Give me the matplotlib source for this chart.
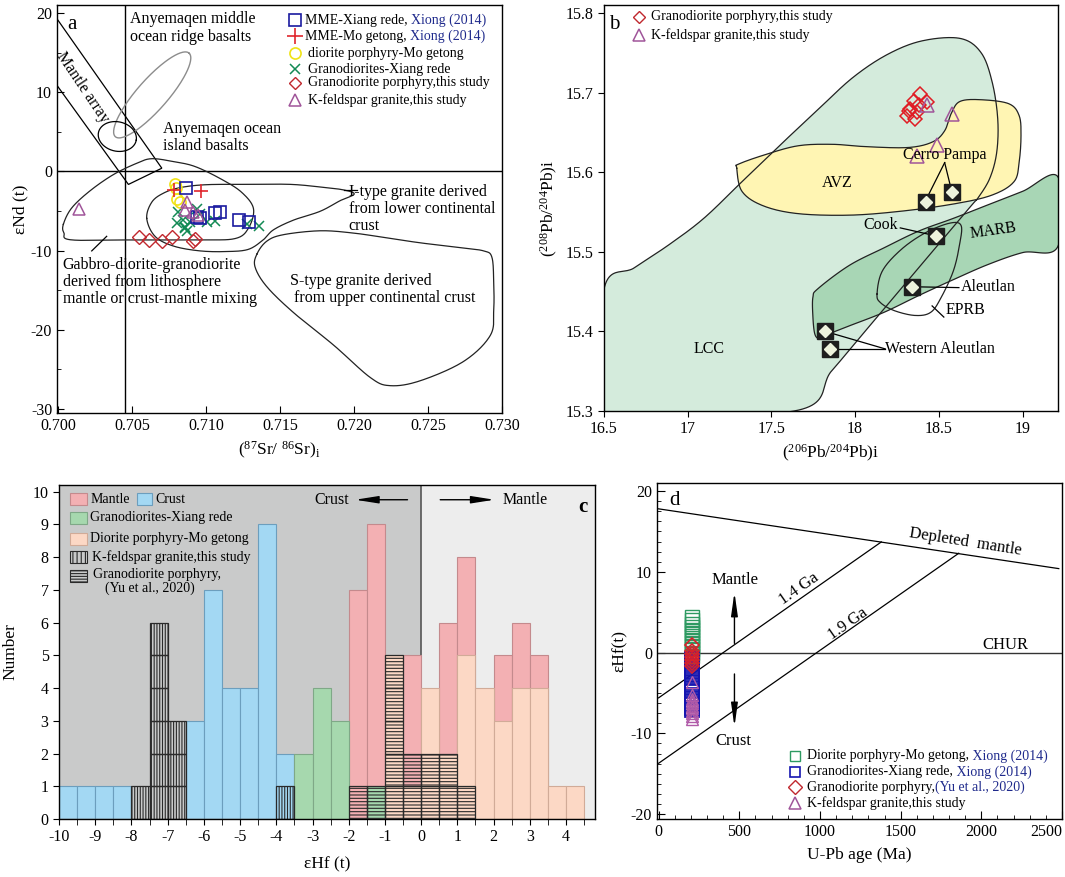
import numpy as np
import matplotlib
matplotlib.use('Agg')
import matplotlib.pyplot as plt
from matplotlib.patches import Rectangle, Polygon
from matplotlib.ticker import MultipleLocator, AutoMinorLocator

plt.rcParams['font.family'] = ['Liberation Serif', 'DejaVu Serif']
plt.rcParams['mathtext.fontset'] = 'custom'
plt.rcParams['mathtext.rm'] = 'Liberation Serif'
plt.rcParams['mathtext.it'] = 'Liberation Serif:italic'
plt.rcParams['hatch.linewidth'] = 0.8
plt.rcParams['axes.linewidth'] = 1.0
plt.rcParams['axes.unicode_minus'] = False

# ---------------- panel a : Sr-Nd ----------------
a_xiang_sr = [0.70863, 0.70935, 0.70958, 0.71060, 0.71093, 0.71218, 0.71290]
a_xiang_nd = [-2.05, -5.74, -5.86, -5.20, -5.12, -6.19, -6.35]
a_mo_sr = [0.70782, 0.70965]
a_mo_nd = [-2.34, -2.46]
a_dior_sr = [0.70789, 0.70795, 0.70805, 0.70823]
a_dior_nd = [-1.64, -2.05, -3.48, -3.81]
a_gran_sr = [0.70811, 0.70935, 0.70800, 0.70845, 0.70856, 0.70868, 0.70890,
             0.71003, 0.71060, 0.71274, 0.71353, 0.70856, 0.70958]
a_gran_nd = [-5.12, -4.71, -6.56, -6.15, -7.17, -7.58, -6.35,
             -6.35, -6.27, -6.68, -6.84, -6.97, -5.33]
a_gdp_sr = [0.70547, 0.70615, 0.70699, 0.70766, 0.70908, 0.70924]
a_gdp_nd = [-8.32, -8.61, -8.81, -8.32, -8.73, -8.48]
a_kfs_sr = [0.70139, 0.70868, 0.70856, 0.70913, 0.70947]
a_kfs_nd = [-4.71, -3.89, -4.92, -5.12, -5.53]

# reference fields (Sr, Nd)
mantle_array_sr = [0.69992, 0.70699, 0.70473, 0.69992]
mantle_array_nd = [19.2, 0.4, -1.65, 10.8]
morb_ellipse = dict(x=0.70634, y=9.65, a=0.726, b=0.2, ang=46.3)
oib_ellipse = dict(x=0.70398, y=4.4, a=0.26, b=0.186, ang=-10)
gabbro_sr = [0.70033, 0.70089, 0.70213, 0.70371, 0.70529, 0.70631, 0.70778, 0.70924,
             0.71105, 0.71240, 0.71319, 0.71285, 0.71195, 0.70958, 0.70507, 0.70089, 0.70037]
gabbro_nd = [-6.68, -4.63, -2.46, -0.41, 1.02, 1.60, 1.23, 0.61,
             -1.02, -2.66, -4.71, -7.17, -8.48, -8.65, -8.65, -8.65, -7.79]
itype_sr = [0.70597, 0.70631, 0.70710, 0.70823, 0.71003, 0.71296, 0.71567, 0.71770, 0.71928,
            0.72000, 0.71906, 0.71770, 0.71590, 0.71454, 0.71387, 0.71285, 0.71139, 0.70958,
            0.70778, 0.70653]
itype_nd = [-5.94, -3.89, -2.75, -2.05, -1.68, -1.64, -1.64, -1.97, -2.34,
            -2.87, -3.69, -5.04, -6.15, -7.38, -8.61, -9.84, -10.12, -10.04,
            -9.43, -8.20]
stype_sr = [0.71342, 0.71409, 0.71522, 0.71770, 0.71996, 0.72222, 0.72447, 0.72718, 0.72876,
            0.72932, 0.72944, 0.72944, 0.72921, 0.72741, 0.72447, 0.72244, 0.72109, 0.71861,
            0.71590, 0.71409, 0.71330]
stype_nd = [-10.45, -8.81, -7.99, -7.50, -7.79, -8.40, -9.02, -9.63, -10.04,
            -10.86, -14.14, -17.42, -20.70, -23.98, -26.43, -27.05, -26.02, -21.93,
            -17.83, -14.55, -12.09]

# ---------------- panel b : Pb-Pb ----------------
b_gdp_206 = [18.39, 18.35, 18.43, 18.32, 18.37, 18.33, 18.31, 18.38, 18.36]
b_gdp_207 = [15.698, 15.690, 15.688, 15.677, 15.675, 15.679, 15.671, 15.684, 15.667]
b_kfs_206 = [18.43, 18.58, 18.49, 18.37]
b_kfs_207 = [15.684, 15.673, 15.634, 15.620]
ref_pt_206 = [18.421, 18.577, 18.483, 18.338, 17.821, 17.848]
ref_pt_207 = [15.563, 15.575, 15.520, 15.456, 15.400, 15.378]

lcc_x = [16.5, 16.682, 16.889, 17.096, 17.324, 17.572, 17.780, 17.987, 18.194, 18.401, 18.628,
         18.753, 18.819, 18.852, 18.846, 18.804, 18.732, 18.690, 18.380, 18.111, 17.862,
         17.635, 16.5]
lcc_y = [15.453, 15.480, 15.509, 15.542, 15.588, 15.638, 15.679, 15.719, 15.748, 15.765, 15.768,
         15.750, 15.713, 15.667, 15.625, 15.592, 15.567, 15.557, 15.480, 15.413, 15.351,
         15.300, 15.300]
marb_x = [17.780, 17.966, 18.173, 18.380, 18.587, 18.794, 19.001, 19.212, 19.212, 19.001,
          18.794, 18.587, 18.380, 18.173, 17.966, 17.821, 17.784, 17.759, 17.748, 17.748]
marb_y = [15.454, 15.483, 15.505, 15.526, 15.542, 15.559, 15.576, 15.594, 15.507, 15.499,
          15.484, 15.465, 15.445, 15.424, 15.407, 15.395, 15.391, 15.397, 15.418, 15.443]
avz_x = [17.293, 17.324, 17.448, 17.655, 17.966, 18.276, 18.587, 18.815, 18.949, 18.980, 18.991,
         18.980, 18.918, 18.753, 18.628, 18.577, 18.535, 18.463, 18.318, 18.069, 17.862,
         17.655, 17.448, 17.303]
avz_y = [15.605, 15.576, 15.558, 15.548, 15.546, 15.551, 15.560, 15.571, 15.588, 15.613, 15.646,
         15.671, 15.686, 15.691, 15.689, 15.675, 15.652, 15.638, 15.631, 15.632, 15.635,
         15.633, 15.621, 15.610]
eprb_x = [18.131, 18.163, 18.276, 18.421, 18.566, 18.633, 18.624, 18.587, 18.515, 18.452,
          18.359, 18.235, 18.152]
eprb_y = [15.447, 15.476, 15.503, 15.524, 15.536, 15.533, 15.509, 15.476, 15.443, 15.424,
          15.420, 15.426, 15.436]

# ---------------- panel c : eHf histogram ----------------
hf_bin_left = np.arange(-10, 4.5, 0.5)
crust_n = [1, 1, 1, 1, 0, 0, 0, 3, 7, 4, 4, 9, 2, 0, 0, 0, 0, 0, 0, 0, 0, 0, 0, 0, 0, 0, 0, 0, 0]
mantle_n = [0, 0, 0, 0, 0, 0, 0, 0, 0, 0, 0, 0, 0, 0, 0, 0, 7, 9, 0, 5, 0, 6, 8, 0, 5, 6, 5, 0, 0]
green_n = [0, 0, 0, 0, 0, 0, 0, 0, 0, 0, 0, 0, 0, 2, 4, 3, 0, 1, 0, 0, 0, 0, 0, 0, 0, 0, 0, 0, 0]
peach_n = [0, 0, 0, 0, 0, 0, 0, 0, 0, 0, 0, 0, 0, 0, 0, 0, 0, 0, 5, 1, 4, 2, 5, 4, 3, 4, 4, 1, 1]
kfs_n = [0, 0, 0, 0, 1, 6, 3, 0, 0, 0, 0, 0, 1, 0, 0, 0, 0, 0, 0, 0, 0, 0, 0, 0, 0, 0, 0, 0, 0]
yu_n = [0, 0, 0, 0, 0, 0, 0, 0, 0, 0, 0, 0, 0, 0, 0, 0, 1, 1, 5, 2, 2, 2, 1, 0, 0, 0, 0, 0, 0]

# ---------------- panel d : eHf vs age ----------------
d_green_age = [205, 205, 205, 205, 205, 205, 205, 205, 205, 205, 205, 205, 205]
d_green_hf = [4.4, 4.0, 3.6, 3.2, 2.8, 2.4, 2.0, 1.6, 1.2, 0.8, 0.4, 0.0, -0.4]
d_blue_age = [205, 205, 205, 205, 205, 205, 205, 205, 205, 205, 205, 205, 205, 205, 205, 205, 205]
d_blue_hf = [-0.8, -1.2, -1.6, -2.0, -2.4, -2.8, -3.2, -3.6, -4.0, -4.4, -4.8, -5.2,
             -5.6, -6.0, -6.4, -6.8, -7.1]
d_red_age = [205, 205, 205, 205, 205, 205, 205]
d_red_hf = [1.0, 0.2, -0.2, -0.6, -0.9, -1.3, -1.7]
d_kfs_age = [210, 210, 210, 210, 210, 210, 210, 210, 210, 210, 210]
d_kfs_hf = [-3.7, -5.3, -5.7, -6.0, -6.3, -6.6, -6.9, -7.2, -7.5, -7.9, -8.2]
dm_age = [0, 2480]
dm_hf = [17.8, 10.4]
ga14_age = [0, 1380]
ga14_hf = [-5.6, 13.7]
ga19_age = [0, 1860]
ga19_hf = [-13.7, 12.3]


def smooth(xs, ys, lims, closed=True, n=24):
    x0, x1, y0, y1 = lims
    pts = np.column_stack([(np.asarray(xs) - x0) / (x1 - x0), (np.asarray(ys) - y0) / (y1 - y0)])
    if closed:
        P = np.vstack([pts[-1], pts, pts[0], pts[1]])
    else:
        P = np.vstack([pts[0], pts, pts[-1]])
    out = []
    t = np.linspace(0, 1, n, endpoint=False)[:, None]
    for i in range(1, len(P) - 2):
        p0, p1, p2, p3 = P[i - 1], P[i], P[i + 1], P[i + 2]
        out.append(0.5 * (2 * p1 + (-p0 + p2) * t + (2 * p0 - 5 * p1 + 4 * p2 - p3) * t ** 2
                          + (-p0 + 3 * p1 - 3 * p2 + p3) * t ** 3))
    out.append(P[-2][None])
    c = np.vstack(out)
    return c[:, 0] * (x1 - x0) + x0, c[:, 1] * (y1 - y0) + y0


def ellipse(e, ux, uy):
    t = np.linspace(0, 2 * np.pi, 200)
    th = np.radians(e['ang'])
    u = e['a'] * np.cos(t) * np.cos(th) - e['b'] * np.sin(t) * np.sin(th)
    v = e['a'] * np.cos(t) * np.sin(th) + e['b'] * np.sin(t) * np.cos(th)
    return e['x'] + u * ux, e['y'] + v * uy


W, H = 1065, 877
fig = plt.figure(figsize=(W / 100, H / 100), dpi=100)


def box(l, r, t, b):
    return [l / W, 1 - b / H, (r - l) / W, (b - t) / H]


tick_fs = 11.5
lab_fs = 12.5

# ======== a ========
ax = fig.add_axes(box(57, 502, 5, 413))
alim = (0.6999, 0.7300, -30.5, 21.0)
ax.set_xlim(alim[0], alim[1])
ax.set_ylim(alim[2], alim[3])
ax.axhline(0, color='k', lw=1.0)
ax.axvline(0.70453, color='k', lw=1.0)
ax.add_patch(Polygon(np.column_stack([mantle_array_sr, mantle_array_nd]), closed=True,
                     fill=False, ec='k', lw=0.9))
ex, ey = ellipse(morb_ellipse, 0.005, 10)
ax.plot(ex, ey, color='#8c8c8c', lw=1.0)
ex, ey = ellipse(oib_ellipse, 0.005, 10)
ax.plot(ex, ey, color='k', lw=0.9)
for xs, ys in [(gabbro_sr, gabbro_nd), (itype_sr, itype_nd), (stype_sr, stype_nd)]:
    sx, sy = smooth(xs, ys, alim)
    ax.plot(sx, sy, color='#222222', lw=0.9)
ax.plot([0.70225, 0.70326], [-10.04, -8.2], color='k', lw=0.9)
ax.plot([0.71930, 0.72020], [-2.4, -2.4], color='k', lw=0.9)

ax.plot(a_gran_sr, a_gran_nd, 'x', color='#138a55', ms=7, mew=1.1, ls='none')
ax.plot(a_dior_sr, a_dior_nd, 'o', mfc='none', mec='#f0e316', ms=8, mew=1.2, ls='none')
ax.plot(a_xiang_sr, a_xiang_nd, 's', mfc='none', mec='#1a1aa0', ms=8, mew=1.2, ls='none')
ax.plot(a_mo_sr, a_mo_nd, '+', color='#e0262d', ms=10, mew=1.2, ls='none')
ax.plot(a_gdp_sr, a_gdp_nd, 'D', mfc='none', mec='#c0282e', ms=7.5, mew=1.0, ls='none')
ax.plot(a_kfs_sr, a_kfs_nd, '^', mfc='none', mec='#a0559a', ms=9, mew=1.1, ls='none')

tfs = 11.5
ax.text(0.70484, 20.2, 'Anyemaqen middle\nocean ridge basalts', fontsize=tfs, va='top', linespacing=1.1)
ax.text(0.7071, 6.4, 'Anyemaqen ocean\nisland basalts', fontsize=tfs, va='top', linespacing=1.1)
ax.text(0.71962, -1.6, 'I-type granite derived\nfrom lower continental\ncrust', fontsize=tfs,
        va='top', linespacing=1.1)
ax.text(0.70028, -10.8, 'Gabbro-diorite-granodiorite\nderived from lithosphere\nmantle or crust-mantle mixing',
        fontsize=tfs, va='top', linespacing=1.1)
ax.text(0.71567, -12.8, 'S-type granite derived\n from upper continental crust', fontsize=tfs,
        va='top', linespacing=1.1)
ax.text(0.7016, 10.6, 'Mantle array', fontsize=tfs, rotation=-56, ha='center', va='center')
ax.text(0.022, 0.975, 'a', transform=ax.transAxes, fontsize=15, va='top')

leg_rows = [0.963, 0.924, 0.882, 0.843, 0.809, 0.767]
leg_styles = [dict(marker='s', mfc='none', mec='#1a1aa0', ms=9, mew=1.2),
              dict(marker='+', color='#e0262d', ms=11, mew=1.2),
              dict(marker='o', mfc='none', mec='#f0e316', ms=8, mew=1.2),
              dict(marker='x', color='#138a55', ms=7, mew=1.1),
              dict(marker='D', mfc='none', mec='#c0282e', ms=6.5, mew=1.0),
              dict(marker='^', mfc='none', mec='#a0559a', ms=9, mew=1.1)]
leg_labels = ['MME-Xiang rede, ', 'MME-Mo getong, ', 'diorite porphyry-Mo getong',
              'Granodiorites-Xiang rede', 'Granodiorite porphyry,this study',
              'K-feldspar granite,this study']
for i, (yy, st, lb) in enumerate(zip(leg_rows, leg_styles, leg_labels)):
    ax.plot([0.535], [yy], transform=ax.transAxes, ls='none', clip_on=False, **st)
    t = ax.text(0.557 if i < 2 else 0.565, yy, lb, transform=ax.transAxes, fontsize=10, va='center')
    if i < 2:
        ax.annotate('Xiong (2014)', xy=(1, 0.5), xycoords=t, va='center', fontsize=10,
                    color='#1f2a8c')

ax.set_xticks([0.700, 0.705, 0.710, 0.715, 0.720, 0.725, 0.730])
ax.set_xticklabels(['0.700', '0.705', '0.710', '0.715', '0.720', '0.725', '0.730'])
ax.set_yticks([-30, -20, -10, 0, 10, 20])
ax.yaxis.set_minor_locator(MultipleLocator(5))
ax.tick_params(direction='in', labelsize=tick_fs, length=5)
ax.tick_params(which='minor', direction='in', length=3)
ax.set_xlabel(r'($^{87}$Sr/ $^{86}$Sr)$_{\rm i}$', fontsize=lab_fs, labelpad=4)
ax.set_ylabel('εNd (t)', fontsize=lab_fs, labelpad=2)

# ======== b ========
bx = fig.add_axes(box(604, 1058, 5, 411))
blim = (16.5, 19.212, 15.3, 15.81)
bx.set_xlim(blim[0], blim[1])
bx.set_ylim(blim[2], blim[3])
sx, sy = smooth(lcc_x, lcc_y, blim)
bx.fill(sx, sy, color='#d4ebdc', lw=0)
sx2, sy2 = smooth(avz_x, avz_y, blim)
bx.fill(sx2, sy2, color='#fff5b3', lw=0)
bx.plot(sx, sy, color='#222222', lw=0.9)
bx.plot(sx2, sy2, color='#222222', lw=0.9)
sx3, sy3 = smooth(marb_x, marb_y, blim)
bx.fill(sx3, sy3, facecolor='#a8d6b5', edgecolor='#222222', lw=0.9)
sx4, sy4 = smooth(eprb_x, eprb_y, blim)
bx.plot(sx4, sy4, color='#222222', lw=0.9)

bx.plot([18.535, 18.43], [15.612, 15.568], color='k', lw=0.9)
bx.plot([18.535, 18.57], [15.612, 15.582], color='k', lw=0.9)
bx.plot([18.27, 18.44], [15.53, 15.522], color='k', lw=0.9)
bx.plot([18.36, 18.62], [15.456, 15.455], color='k', lw=0.9)
bx.plot([18.46, 18.53], [15.432, 15.418], color='k', lw=0.9)
bx.plot([18.18, 17.87], [15.378, 15.397], color='k', lw=0.9)
bx.plot([18.18, 17.89], [15.378, 15.378], color='k', lw=0.9)

bx.plot(ref_pt_206, ref_pt_207, 's', color='#1e1e1e', ms=11, ls='none')
bx.plot(ref_pt_206, ref_pt_207, 'D', color='#eef3dd', ms=6, ls='none')
bx.plot(b_gdp_206, b_gdp_207, 'D', mfc='none', mec='#e01c24', ms=7, mew=1.1, ls='none')
bx.plot(b_kfs_206, b_kfs_207, '^', mfc='none', mec='#a0559a', ms=10, mew=1.1, ls='none')

bfs = 11.5
bx.text(18.535, 15.621, 'Cerro Pampa', fontsize=bfs, ha='center', va='center')
bx.text(17.893, 15.586, 'AVZ', fontsize=bfs, ha='center', va='center')
bx.text(17.127, 15.378, 'LCC', fontsize=bfs, ha='center', va='center')
bx.text(18.152, 15.534, 'Cook', fontsize=bfs, ha='center', va='center')
bx.text(18.825, 15.527, 'MARB', fontsize=bfs, ha='center', va='center', rotation=8)
bx.text(18.63, 15.456, 'Aleutlan', fontsize=bfs, ha='left', va='center')
bx.text(18.54, 15.427, 'EPRB', fontsize=bfs, ha='left', va='center')
bx.text(18.18, 15.378, 'Western Aleutlan', fontsize=bfs, ha='left', va='center')
bx.text(0.012, 0.975, 'b', transform=bx.transAxes, fontsize=15, va='top')
bx.plot([0.077], [0.971], 'D', mfc='none', mec='#c0282e', ms=6.5, mew=1.0,
        transform=bx.transAxes, clip_on=False)
bx.text(0.103, 0.971, 'Granodiorite porphyry,this study', transform=bx.transAxes, fontsize=10,
        va='center')
bx.plot([0.077], [0.926], '^', mfc='none', mec='#a0559a', ms=9, mew=1.1,
        transform=bx.transAxes, clip_on=False)
bx.text(0.103, 0.926, 'K-feldspar granite,this study', transform=bx.transAxes, fontsize=10,
        va='center')
bx.set_xticks([16.5, 17, 17.5, 18, 18.5, 19])
bx.set_xticklabels(['16.5', '17', '17.5', '18', '18.5', '19'])
bx.set_yticks([15.3, 15.4, 15.5, 15.6, 15.7, 15.8])
bx.tick_params(labelsize=tick_fs, length=4)
bx.set_xlabel(r'($^{206}$Pb/$^{204}$Pb)i', fontsize=lab_fs, labelpad=4)
bx.set_ylabel(r'($^{208}$Pb/$^{204}$Pb)i', fontsize=lab_fs, labelpad=4)

# ======== c ========
cx = fig.add_axes(box(59, 595, 485, 819))
cx.set_xlim(-10, 4.8)
cx.set_ylim(0, 10.2)
cx.axvspan(-10, 0, color='#c9caca', zorder=0)
cx.axvspan(0, 4.8, color='#ededed', zorder=0)
cx.plot([0, 0], [5, 10.2], color='#555555', lw=1.2, zorder=1)
w = 0.5
cx.bar(hf_bin_left, crust_n, width=w, align='edge', color='#a3d8f3', ec='#6c9ebd', lw=0.8, zorder=2)
cx.bar(hf_bin_left, mantle_n, width=w, align='edge', color='#f3b0b3', ec='#c48a8d', lw=0.8, zorder=2)
cx.bar(hf_bin_left, peach_n, width=w, align='edge', color='#fcd8c5', ec='#d1ab98', lw=0.8, zorder=3)
cx.bar(hf_bin_left, green_n, width=w, align='edge', color='#a6d8ae', ec='#7fa887', lw=0.8, zorder=3)
for xl, n in zip(hf_bin_left, kfs_n):
    for k in range(n):
        cx.bar(xl, 1, bottom=k, width=w, align='edge', fill=False, hatch='||||||', ec='#2a2a2a',
               lw=0.9, zorder=4)
for xl, n in zip(hf_bin_left, yu_n):
    for k in range(n):
        cx.bar(xl, 1, bottom=k, width=w, align='edge', fill=False, hatch='-----', ec='#2a2a2a',
               lw=0.9, zorder=4)

cx.annotate('', xy=(-1.9, 9.75), xytext=(-0.3, 9.75),
            arrowprops=dict(arrowstyle='-|>,head_length=1.4,head_width=0.22', color='k', lw=1.0),
            zorder=5)
cx.text(-2.0, 9.75, 'Crust', fontsize=11.5, ha='right', va='center', zorder=5)
cx.annotate('', xy=(2.1, 9.75), xytext=(0.45, 9.75),
            arrowprops=dict(arrowstyle='-|>,head_length=1.4,head_width=0.22', color='k', lw=1.0),
            zorder=5)
cx.text(2.25, 9.75, 'Mantle', fontsize=11.5, ha='left', va='center', zorder=5)
cx.text(0.977, 0.965, 'c', transform=cx.transAxes, fontsize=15, ha='center', va='top',
        fontweight='bold', zorder=5)

pw, ph = 0.032, 0.036
lfs = 10
cx.add_patch(Rectangle((0.021, 0.958 - ph / 2), pw, ph, transform=cx.transAxes, fc='#f3b0b3',
                       ec='#c48a8d', lw=0.8, zorder=5))
cx.text(0.058, 0.958, 'Mantle', transform=cx.transAxes, fontsize=lfs, va='center', zorder=5)
cx.add_patch(Rectangle((0.146, 0.958 - ph / 2), 0.028, ph, transform=cx.transAxes, fc='#a3d8f3',
                       ec='#6c9ebd', lw=0.8, zorder=5))
cx.text(0.180, 0.958, 'Crust', transform=cx.transAxes, fontsize=lfs, va='center', zorder=5)
cx.add_patch(Rectangle((0.021, 0.902 - ph / 2), pw, ph, transform=cx.transAxes, fc='#a6d8ae',
                       ec='#7fa887', lw=0.8, zorder=5))
cx.text(0.058, 0.904, 'Granodiorites-Xiang rede', transform=cx.transAxes, fontsize=lfs,
        va='center', zorder=5)
cx.add_patch(Rectangle((0.021, 0.839 - ph / 2), pw, ph, transform=cx.transAxes, fc='#fcd8c5',
                       ec='#d1ab98', lw=0.8, zorder=5))
cx.text(0.058, 0.841, 'Diorite porphyry-Mo getong', transform=cx.transAxes, fontsize=lfs,
        va='center', zorder=5)
cx.add_patch(Rectangle((0.021, 0.784 - ph / 2), pw, ph, transform=cx.transAxes, fill=False,
                       hatch='||||', ec='#2a2a2a', lw=0.8, zorder=5))
cx.text(0.062, 0.784, 'K-feldspar granite,this study', transform=cx.transAxes, fontsize=lfs,
        va='center', zorder=5)
cx.add_patch(Rectangle((0.021, 0.728 - ph / 2), pw, ph, transform=cx.transAxes, fill=False,
                       hatch='------', ec='#2a2a2a', lw=0.8, zorder=5))
cx.text(0.064, 0.731, 'Granodiorite porphyry,', transform=cx.transAxes, fontsize=lfs,
        va='center', zorder=5)
cx.text(0.086, 0.692, '(Yu et al., 2020)', transform=cx.transAxes, fontsize=lfs,
        va='center', zorder=5)

cx.set_xticks(np.arange(-10, 5, 1))
cx.set_xticklabels([str(v) for v in range(-10, 5)])
cx.xaxis.set_minor_locator(MultipleLocator(0.5))
cx.set_yticks(range(0, 11))
cx.tick_params(labelsize=tick_fs, length=4)
cx.tick_params(which='minor', length=4)
cx.set_xlabel('εHf (t)', fontsize=lab_fs, labelpad=8)
cx.set_ylabel('Number', fontsize=lab_fs, labelpad=10)
for s in cx.spines.values():
    s.set_zorder(6)

# ======== d ========
dx = fig.add_axes(box(657, 1062, 483, 819))
dx.set_xlim(-10, 2480)
dx.set_ylim(-20.6, 21)
dx.axhline(0, color='#333333', lw=1.0)
dx.plot(dm_age, dm_hf, color='k', lw=0.9)
dx.plot(ga14_age, ga14_hf, color='k', lw=0.9)
dx.plot(ga19_age, ga19_hf, color='k', lw=0.9)
dx.annotate('', xy=(470, 7.8), xytext=(470, 0.8),
            arrowprops=dict(arrowstyle='-|>,head_length=1.4,head_width=0.2', color='k', lw=1.0))
dx.annotate('', xy=(470, -9.5), xytext=(470, -2.3),
            arrowprops=dict(arrowstyle='-|>,head_length=1.4,head_width=0.2', color='k', lw=1.0))
dfs = 12
dx.text(475, 9.0, 'Mantle', fontsize=dfs, ha='center', va='center')
dx.text(465, -10.9, 'Crust', fontsize=dfs, ha='center', va='center')
dx.text(1900, 13.7, 'Depleted  mantle', fontsize=dfs, ha='center', va='center', rotation=-9)
dx.text(870, 7.9, '1.4 Ga', fontsize=dfs, ha='center', va='center', rotation=35)
dx.text(1172, 3.6, '1.9 Ga', fontsize=dfs, ha='center', va='center', rotation=35)
dx.text(2147, 1.0, 'CHUR', fontsize=dfs, ha='center', va='center')
dx.text(0.03, 0.975, 'd', transform=dx.transAxes, fontsize=15, va='top')

dx.plot(d_green_age, d_green_hf, 's', mfc='none', mec='#2e9a62', ms=9.5, mew=1.0, ls='none')
dx.plot(d_blue_age, d_blue_hf, 's', mfc='none', mec='#1515b0', ms=9.5, mew=1.3, ls='none')
dx.plot(d_red_age, d_red_hf, 'D', mfc='none', mec='#d8202a', ms=7, mew=1.2, ls='none')
dx.plot(d_kfs_age, d_kfs_hf, '^', mfc='none', mec='#b05aa8', ms=8, mew=1.0, ls='none')

d_rows = [0.1875, 0.14, 0.095, 0.048]
d_styles = [dict(marker='s', mfc='none', mec='#2e9a62', ms=7, mew=1.0),
            dict(marker='s', mfc='none', mec='#1515b0', ms=7, mew=1.2),
            dict(marker='D', mfc='none', mec='#c0282e', ms=7, mew=1.0),
            dict(marker='^', mfc='none', mec='#a0559a', ms=9, mew=1.1)]
d_labels = ['Diorite porphyry-Mo getong,', 'Granodiorites-Xiang rede,', 'Granodiorite porphyry,',
            'K-feldspar granite,this study']
d_cites = [' Xiong (2014)', ' Xiong (2014)', '(Yu et al., 2020)', None]
for yy, st, lb, ct in zip(d_rows, d_styles, d_labels, d_cites):
    dx.plot([0.34], [yy], transform=dx.transAxes, ls='none', **st)
    t = dx.text(0.37, yy, lb, transform=dx.transAxes, fontsize=10, va='center')
    if ct:
        dx.annotate(ct, xy=(1, 0.5), xycoords=t, va='center', fontsize=10, color='#1f2a8c')

dx.set_xticks([0, 500, 1000, 1500, 2000, 2500])
dx.set_yticks([-20, -10, 0, 10, 20])
dx.xaxis.set_minor_locator(AutoMinorLocator(5))
dx.yaxis.set_minor_locator(AutoMinorLocator(8))
dx.tick_params(direction='in', labelsize=tick_fs, length=6)
dx.tick_params(which='minor', direction='in', length=3)
dx.get_xticklabels()[-1].set_horizontalalignment('right')
dx.set_xlabel('U-Pb age (Ma)', fontsize=lab_fs, labelpad=5)
dx.set_ylabel('εHf(t)', fontsize=lab_fs, labelpad=2)

fig.savefig('out.png', dpi=100)
